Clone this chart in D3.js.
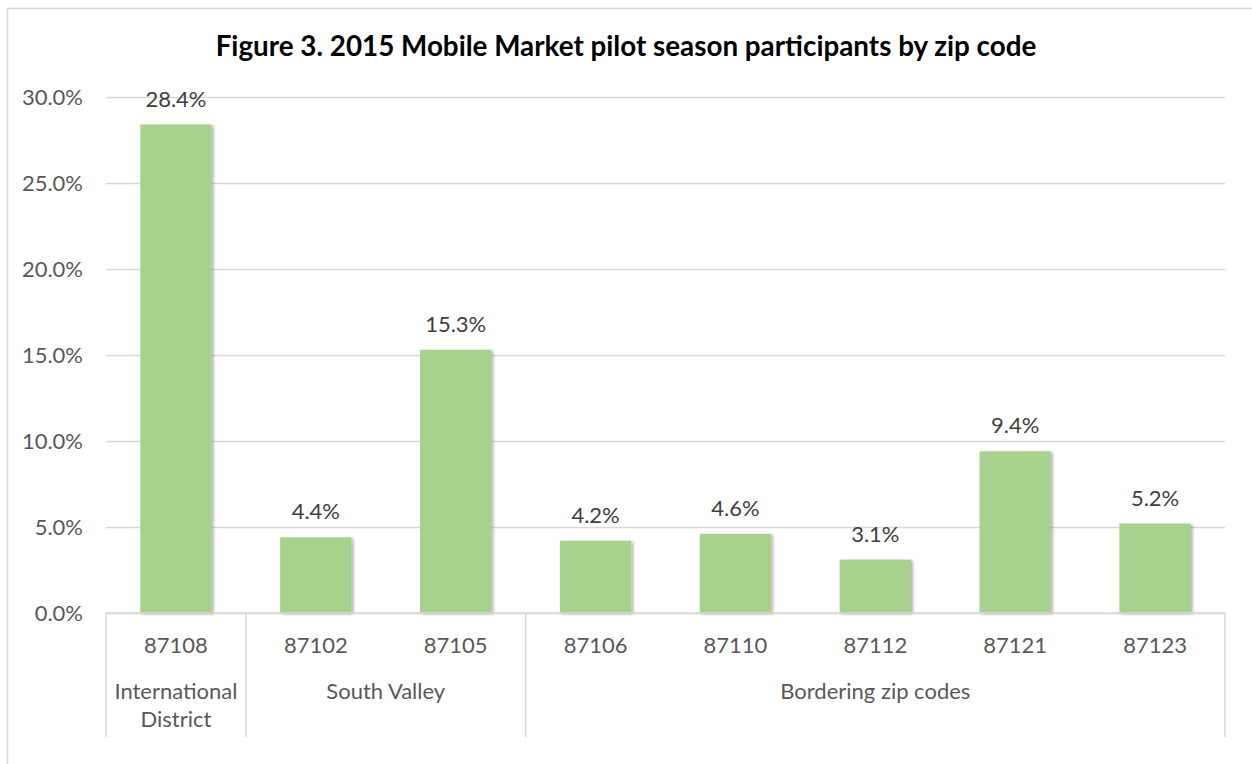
<!DOCTYPE html>
<html>
<head>
<meta charset="utf-8">
<script src="https://cdn.jsdelivr.net/npm/d3@7"></script>
<style>
  html, body { margin: 0; padding: 0; background: #fff; }
  svg { display: block; }
  text { font-family: Lato, "Open Sans", sans-serif; }
</style>
</head>
<body>
<svg id="chart" width="1252" height="764"></svg>
<script>
const title = "Figure 3. 2015 Mobile Market pilot season participants by zip code";
const zipCodes = ["87108", "87102", "87105", "87106", "87110", "87112", "87121", "87123"];
const shares = [28.4, 4.4, 15.3, 4.2, 4.6, 3.1, 9.4, 5.2];
const groupNames = [["International", "District"], ["South Valley"], ["Bordering zip codes"]];
const groupSizes = [1, 2, 5];
const yTicks = [0, 5, 10, 15, 20, 25, 30];

const W = 1252, H = 764;
const plot = { left: 106, right: 1225, top: 97, bottom: 613 };
const labelColor = "#595959";
const gridColor = "#D9D9D9";
const barColor = "#A9D18E";
const fontSize = 22;

const svg = d3.select("#chart");

// shadow filter for bars
const defs = svg.append("defs");
const f = defs.append("filter").attr("id", "shadow")
  .attr("x", "-20%").attr("y", "-20%").attr("width", "140%").attr("height", "140%");
f.append("feDropShadow").attr("dx", 2).attr("dy", 1).attr("stdDeviation", 1.4)
  .attr("flood-color", "#000").attr("flood-opacity", 0.3);

// chart frame
svg.append("rect").attr("x", 7.5).attr("y", 8.5).attr("width", W + 10).attr("height", H + 10)
  .attr("fill", "#fff").attr("stroke", gridColor).attr("stroke-width", 1.5);

// title
svg.append("text").attr("x", W / 2).attr("y", 56).attr("text-anchor", "middle")
  .attr("font-size", 27.8).attr("font-weight", "bold").attr("fill", "#000")
  .text(title);

const x = d3.scaleBand().domain(zipCodes).range([plot.left, plot.right])
  .paddingInner(0.49).paddingOuter(0.245);
const y = d3.scaleLinear().domain([0, 30]).range([plot.bottom, plot.top]);

// y axis + gridlines
const yAxis = svg.append("g").attr("transform", `translate(${plot.left},0)`)
  .call(d3.axisLeft(y).tickValues(yTicks).tickFormat(d => d.toFixed(1) + "%")
    .tickSize(-(plot.right - plot.left)).tickPadding(23));
yAxis.select(".domain").remove();
yAxis.selectAll(".tick line").attr("stroke", gridColor).attr("stroke-width", 1.5);
yAxis.selectAll(".tick text").attr("fill", labelColor).attr("font-size", fontSize)
  .style("font-family", "Lato, 'Open Sans', sans-serif");

// bars
svg.append("g").selectAll("rect").data(zipCodes).join("rect")
  .attr("x", d => x(d))
  .attr("y", (d, i) => y(shares[i]))
  .attr("width", x.bandwidth())
  .attr("height", (d, i) => y(0) - y(shares[i]))
  .attr("fill", barColor)
  .attr("filter", "url(#shadow)");

// data labels
svg.append("g").selectAll("text").data(zipCodes).join("text")
  .attr("x", d => x(d) + x.bandwidth() / 2)
  .attr("y", (d, i) => y(shares[i]) - 18)
  .attr("text-anchor", "middle").attr("font-size", fontSize).attr("fill", "#404040")
  .text((d, i) => shares[i].toFixed(1) + "%");

// x axis (zip codes)
const xAxis = svg.append("g").attr("transform", `translate(0,${plot.bottom})`)
  .call(d3.axisBottom(x).tickSize(0).tickPadding(24));
xAxis.select(".domain").remove();
xAxis.selectAll(".tick text").attr("fill", labelColor).attr("font-size", fontSize)
  .style("font-family", "Lato, 'Open Sans', sans-serif");

// axis line
svg.append("line").attr("x1", plot.left).attr("x2", plot.right)
  .attr("y1", plot.bottom).attr("y2", plot.bottom)
  .attr("stroke", gridColor).attr("stroke-width", 1.5);

// group boundaries and labels
const halfGap = (x.step() - x.bandwidth()) / 2;
let startIdx = 0;
const boundaries = [plot.left];
const gLabels = svg.append("g");
groupSizes.forEach((n, gi) => {
  const x0 = x(zipCodes[startIdx]) - halfGap;
  const x1 = x(zipCodes[startIdx + n - 1]) + x.bandwidth() + halfGap;
  boundaries.push(x1);
  const t = gLabels.append("text").attr("x", (x0 + x1) / 2).attr("y", 699)
    .attr("text-anchor", "middle").attr("font-size", fontSize).attr("fill", labelColor);
  groupNames[gi].forEach((line, li) => {
    t.append("tspan").attr("x", (x0 + x1) / 2).attr("dy", li === 0 ? 0 : 28).text(line);
  });
  startIdx += n;
});
svg.append("g").selectAll("line").data(boundaries).join("line")
  .attr("x1", d => d).attr("x2", d => d)
  .attr("y1", plot.bottom).attr("y2", 737)
  .attr("stroke", gridColor).attr("stroke-width", 1.5);
</script>
</body>
</html>
